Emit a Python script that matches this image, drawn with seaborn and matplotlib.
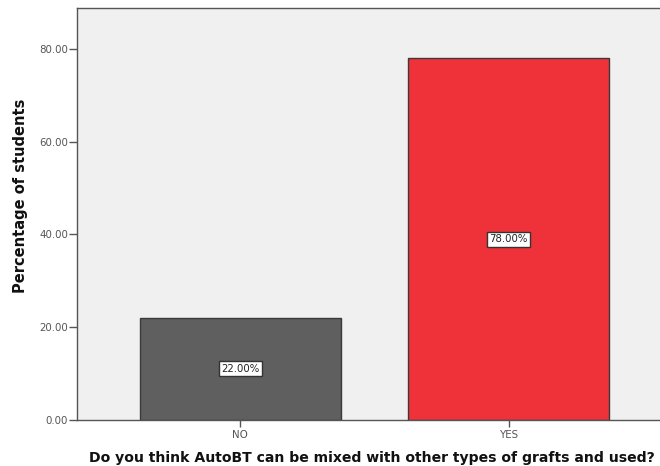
import matplotlib
matplotlib.use("Agg")
import matplotlib.pyplot as plt
import seaborn as sns
import pandas as pd

categories = ["NO", "YES"]
percentages = [22.0, 78.0]
bar_colors = ["#5f5f5f", "#ef3239"]
y_ticks = [0, 20, 40, 60, 80]

df = pd.DataFrame({"answer": categories, "pct": percentages})

sns.set_style("white")
plt.rcParams["font.family"] = ["DejaVu Sans"]

fig = plt.figure(figsize=(6.6, 4.66), dpi=100)
ax = fig.add_axes([77 / 660, 46 / 466, (672 - 77) / 660, 412 / 466])
ax.set_facecolor("#f0f0f0")

sns.barplot(data=df, x="answer", y="pct", hue="answer", palette=bar_colors,
            width=0.75, edgecolor="#3a3a3a", linewidth=1.0, legend=False,
            saturation=1, ax=ax)

ax.set_xlim(-0.608, 1.608)
ax.set_ylim(0, 88.8)
ax.set_yticks(y_ticks)
ax.set_yticklabels([f"{v:.2f}" for v in y_ticks], fontsize=7.4, color="#5a5a5a")
ax.tick_params(axis="x", bottom=True, labelsize=7.4, colors="#555555", length=5, width=1, direction="out", pad=2)
ax.tick_params(axis="y", left=True, length=5.5, width=1, direction="out", colors="#555555", pad=1)

for s in ["left", "bottom", "top", "right"]:
    ax.spines[s].set_color("#555555")
    ax.spines[s].set_linewidth(1.0)

for i, v in enumerate(percentages):
    ax.text(i, v / 2, f"{v:.2f}%", ha="center", va="center", fontsize=7.3, color="#222222",
            bbox=dict(boxstyle="square,pad=0.25", facecolor="white", edgecolor="#333333", linewidth=1))

ax.set_ylabel("Percentage of students", fontsize=10.5, fontweight="bold", color="#111111")
ax.yaxis.set_label_coords(-(77 - 28) / (672 - 77), (420 - 196) / 412)
ax.set_xlabel("Do you think AutoBT can be mixed with other types of grafts and used?",
              fontsize=10.1, fontweight="bold", color="#111111")
ax.xaxis.set_label_coords((372 - 77) / (672 - 77), -(451 - 420) / 412)

fig.savefig("out.png", dpi=100)
